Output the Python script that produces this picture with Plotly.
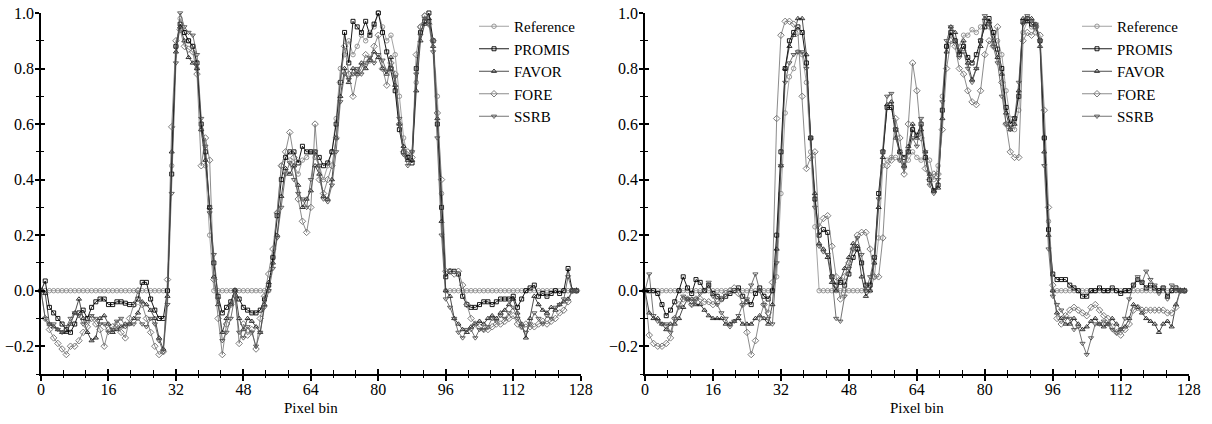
import plotly.graph_objects as go

bins = list(range(128))

# ---------------- Left panel ----------------
ref_L = [0, 0, 0, 0, 0, 0, 0, 0, 0, 0, 0, 0, 0, 0, 0, 0, 0, 0, 0, 0, 0, 0, 0, 0, 0, 0, 0, 0, 0, 0,
         0.0, 0.45, 0.88, 0.98, 0.93, 0.9, 0.88, 0.8, 0.58, 0.45, 0.2,
         0, 0, 0, 0, 0, 0, 0, 0, 0, 0, 0, 0, 0,
         0.0, 0.12, 0.28, 0.45, 0.48, 0.47, 0.45, 0.42, 0.47, 0.48, 0.5, 0.48, 0.45, 0.4, 0.45, 0.5, 0.62, 0.8, 0.85, 0.9, 0.85,
         0.88, 0.92, 0.9, 0.93, 0.95, 1.0, 0.95, 0.9, 0.92, 0.85, 0.7, 0.55, 0.48, 0.5, 0.75, 0.95, 0.99, 0.97, 0.9, 0.7, 0.35,
         0, 0, 0, 0, 0, 0, 0, 0, 0, 0, 0, 0, 0, 0, 0, 0, 0, 0, 0, 0, 0, 0, 0, 0, 0, 0, 0, 0, 0, 0, 0, 0]

promis_L = [0.0, 0.035, -0.06, -0.08, -0.1, -0.12, -0.14, -0.15, -0.12, -0.08, -0.07, -0.1, -0.06, -0.04, -0.03, -0.03, -0.05, -0.05, -0.04, -0.04, -0.045, -0.05, -0.05, -0.03, 0.03, 0.03, -0.03, -0.07, -0.1, -0.1,
            0.0, 0.42, 0.88, 0.96, 0.93, 0.9, 0.88, 0.82, 0.6, 0.5, 0.3,
            0.1, -0.02, -0.08, -0.06, -0.04, 0.0, -0.03, -0.06, -0.07, -0.08, -0.08, -0.07, -0.03,
            0.02, 0.12, 0.27, 0.4, 0.48, 0.5, 0.5, 0.46, 0.52, 0.5, 0.5, 0.5, 0.48, 0.45, 0.46, 0.5, 0.6, 0.75, 0.93, 0.82, 0.97,
            0.95, 0.93, 0.97, 0.92, 0.96, 1.0, 0.93, 0.86, 0.8, 0.72, 0.58, 0.5, 0.48, 0.46, 0.8, 0.93, 0.97, 1.0, 0.9, 0.6, 0.3,
            0.05, 0.07, 0.07, 0.06, -0.02, -0.05, -0.06, -0.06, -0.05, -0.04, -0.04, -0.05, -0.04, -0.03, -0.03, -0.03, -0.02, -0.06, -0.03, 0.0, 0.01, 0.02, -0.02, -0.01, -0.02, -0.01, 0.0, -0.01, 0.0, 0.08, 0.0, 0.0]

favor_L = [0.0, -0.01, -0.12, -0.13, -0.14, -0.15, -0.15, -0.12, -0.08, -0.03, -0.1, -0.15, -0.18, -0.17, -0.1, -0.09, -0.12, -0.15, -0.14, -0.13, -0.12, -0.12, -0.1, -0.08, -0.04, -0.05, -0.07, -0.1, -0.17, -0.21,
           -0.02, 0.5, 0.86, 0.95, 0.9, 0.84, 0.82, 0.8, 0.58, 0.47, 0.3,
           0.05, -0.05, -0.15, -0.1, -0.05, 0.0, -0.1, -0.14, -0.1, -0.11, -0.13, -0.15, -0.05,
           0.03, 0.1, 0.2, 0.34, 0.44, 0.42, 0.45, 0.38, 0.3, 0.33, 0.36, 0.45, 0.42, 0.34, 0.33, 0.4, 0.55, 0.7, 0.8, 0.75, 0.8,
           0.78, 0.82, 0.8, 0.83, 0.86, 0.84, 0.8, 0.78, 0.84, 0.74, 0.6, 0.52, 0.47, 0.47, 0.72, 0.9, 0.96, 0.98, 0.88, 0.62, 0.25,
           0.0, -0.02, -0.1, -0.12, -0.14, -0.15, -0.13, -0.12, -0.11, -0.12, -0.1, -0.09, -0.1, -0.08, -0.07, -0.05, -0.03, -0.08, -0.12, -0.17, -0.1, -0.02, -0.05, -0.07, -0.08, -0.06, -0.07, -0.05, -0.04, -0.03, 0.0, 0.0]

fore_L = [0.0, -0.1, -0.14, -0.17, -0.19, -0.21, -0.23, -0.2, -0.2, -0.18, -0.15, -0.13, -0.1, -0.12, -0.14, -0.2, -0.14, -0.13, -0.12, -0.15, -0.17, -0.1, -0.05, 0.0, -0.05, -0.1, -0.15, -0.2, -0.23, -0.22,
          0.04, 0.59, 0.9, 0.94, 0.88, 0.87, 0.86, 0.78, 0.45, 0.55, 0.47,
          0.04, -0.1, -0.23, -0.12, -0.05, 0.0, -0.19, -0.12, -0.16, -0.14, -0.21, -0.1, -0.02,
          0.06, 0.15, 0.28, 0.45, 0.5, 0.57, 0.48, 0.33, 0.25, 0.21, 0.3, 0.6, 0.4, 0.35, 0.4, 0.45, 0.55, 0.75, 0.88, 0.78, 0.7,
          0.78, 0.8, 0.85, 0.83, 0.88, 0.92, 0.8, 0.74, 0.82, 0.78, 0.6, 0.5, 0.5, 0.48, 0.85, 0.95, 0.99, 0.96, 0.9, 0.64, 0.4,
          0.07, 0.07, 0.06, 0.07, 0.02, -0.05, -0.1, -0.12, -0.13, -0.14, -0.14, -0.13, -0.12, -0.12, -0.11, -0.1, -0.09, -0.12, -0.13, -0.12, -0.13, -0.13, -0.12, -0.11, -0.12, -0.11, -0.1, -0.08, -0.07, -0.04, 0.0, 0.0]

ssrb_L = [0.0, -0.1, -0.12, -0.12, -0.14, -0.15, -0.13, -0.1, -0.08, -0.09, -0.12, -0.11, -0.09, -0.1, -0.12, -0.12, -0.15, -0.14, -0.11, -0.1, -0.13, -0.12, -0.12, -0.1, -0.12, -0.13, -0.1, -0.12, -0.18, -0.22,
          -0.05, 0.35, 0.82, 1.0, 0.95, 0.93, 0.92, 0.85, 0.62, 0.52, 0.28,
          0.13, -0.03, -0.18, -0.15, -0.1, -0.02, -0.15, -0.17, -0.13, -0.15, -0.2, -0.15, -0.06,
          0.0, 0.08, 0.19, 0.3, 0.42, 0.46, 0.4, 0.35, 0.33, 0.3, 0.4, 0.5, 0.45, 0.33, 0.32, 0.38, 0.5, 0.68, 0.78, 0.76, 0.78,
          0.8, 0.78, 0.82, 0.84, 0.82, 0.85, 0.83, 0.79, 0.8, 0.77, 0.62, 0.49, 0.45, 0.5, 0.78, 0.92, 0.98, 0.96, 0.86, 0.55, 0.2,
          -0.03, -0.06, -0.1, -0.15, -0.17, -0.14, -0.14, -0.17, -0.14, -0.14, -0.13, -0.1, -0.11, -0.09, -0.1, -0.08, -0.06, -0.1, -0.13, -0.15, -0.12, -0.08, -0.1, -0.12, -0.09, -0.1, -0.06, -0.05, -0.03, 0.05, 0.0, 0.0]

# ---------------- Right panel ----------------
ref_R = [0, 0, 0, 0, 0, 0, 0, 0, 0, 0, 0, 0, 0, 0, 0, 0, 0, 0, 0, 0, 0, 0, 0, 0, 0, 0, 0, 0, 0, 0, 0,
         0.05, 0.35, 0.64, 0.77, 0.8, 0.86, 0.85, 0.75, 0.5, 0.23,
         0, 0, 0, 0, 0, 0, 0, 0, 0, 0, 0, 0, 0,
         0.05, 0.19, 0.45, 0.47, 0.48, 0.48, 0.47, 0.45, 0.47, 0.5, 0.48, 0.47, 0.48, 0.47, 0.4, 0.45, 0.7, 0.88, 0.92, 0.9, 0.88,
         0.92, 0.92, 0.94, 0.93, 0.95, 0.97, 0.95, 0.92, 0.9, 0.85, 0.72, 0.62, 0.58, 0.65, 0.93, 0.97, 0.95, 0.93, 0.9, 0.55, 0.25, 0.0,
         0, 0, 0, 0, 0, 0, 0, 0, 0, 0, 0, 0, 0, 0, 0, 0, 0, 0, 0, 0, 0, 0, 0, 0, 0, 0, 0, 0, 0, 0, 0]

promis_R = [0.0, 0.0, 0.0, -0.01, -0.05, -0.09, -0.07, -0.04, 0.0, 0.05, 0.01, -0.01, 0.04, 0.03, 0.0, 0.02, -0.01, -0.02, -0.03, -0.02, -0.01, 0.0, 0.01, -0.02, -0.04, -0.05, -0.01, 0.01, -0.02, -0.03, 0.0,
            0.2, 0.5, 0.8, 0.9, 0.93, 0.95, 0.93, 0.82, 0.55, 0.33,
            0.2, 0.22, 0.21, 0.05, 0.02, 0.03, 0.02, 0.06, 0.12, 0.15, 0.1, 0.02, 0.02,
            0.12, 0.35, 0.5, 0.66, 0.66, 0.58, 0.5, 0.48, 0.5, 0.58, 0.56, 0.6, 0.48, 0.4, 0.36, 0.38, 0.65, 0.88, 0.93, 0.9, 0.85,
            0.88, 0.84, 0.82, 0.85, 0.9, 0.95, 0.98, 0.93, 0.87, 0.8, 0.66, 0.6, 0.62, 0.7, 0.97, 0.98, 0.96, 0.95, 0.9, 0.55, 0.22, 0.06,
            0.04, 0.04, 0.04, 0.02, 0.01, 0.0, -0.02, -0.02, 0.0, 0.0, 0.01, 0.0, 0.0, 0.01, 0.0, -0.01, 0.0, 0.0, 0.02, 0.04, 0.03, 0.01, 0.02, 0.01, 0.0, 0.01, -0.02, 0.0, 0.01, 0.0, 0.0]

favor_R = [0.0, -0.08, -0.1, -0.1, -0.12, -0.14, -0.12, -0.12, -0.1, -0.06, -0.03, -0.03, -0.05, -0.05, -0.07, -0.09, -0.1, -0.1, -0.1, -0.12, -0.12, -0.11, -0.1, -0.12, -0.12, -0.12, -0.1, -0.09, -0.1, -0.12, -0.05,
           0.15, 0.45, 0.8, 0.88, 0.92, 0.98, 0.98, 0.85, 0.55, 0.35,
           0.17, 0.15, 0.12, 0.03, 0.0, 0.04, 0.08, 0.12, 0.17, 0.16, 0.05, -0.02, 0.0,
           0.1, 0.3, 0.48, 0.67, 0.68, 0.55, 0.5, 0.45, 0.52, 0.6, 0.55, 0.58, 0.5, 0.42, 0.36, 0.37, 0.62, 0.86, 0.95, 0.93, 0.86,
           0.9, 0.82, 0.76, 0.8, 0.88, 0.98, 0.97, 0.9, 0.84, 0.78, 0.64, 0.58, 0.6, 0.72, 0.98, 0.97, 0.98, 0.96, 0.88, 0.5, 0.2, 0.0,
           -0.08, -0.1, -0.12, -0.12, -0.1, -0.12, -0.14, -0.13, -0.11, -0.1, -0.12, -0.13, -0.12, -0.1, -0.12, -0.14, -0.13, -0.1, -0.05, -0.06, -0.08, -0.1, -0.11, -0.12, -0.15, -0.12, -0.11, -0.13, -0.05, 0.0, 0.0]

fore_R = [0.0, -0.16, -0.19, -0.2, -0.2, -0.19, -0.17, -0.1, -0.05, -0.03, -0.03, -0.05, -0.03, -0.03, -0.04, -0.04, -0.05, -0.04, -0.03, -0.01, 0.0, 0.01, -0.01, -0.05, -0.15, -0.23, -0.18, -0.1, -0.05, -0.08, 0.03,
          0.62, 0.92, 0.97, 0.97, 0.96, 0.93, 0.7, 0.44, 0.48, 0.5,
          0.23, 0.26, 0.27, 0.16, 0.05, -0.03, 0.05, 0.1, 0.15, 0.2, 0.21, 0.21, 0.15,
          0.05, 0.05, 0.19, 0.45, 0.47, 0.62, 0.55, 0.42, 0.6, 0.82, 0.72, 0.55, 0.44, 0.4, 0.42, 0.42, 0.58, 0.8, 0.9, 0.88, 0.8,
          0.78, 0.72, 0.68, 0.67, 0.72, 0.85, 0.9, 0.88, 0.95, 0.75, 0.6, 0.5, 0.48, 0.48, 0.9, 0.93, 0.92, 0.95, 0.92, 0.65, 0.3, 0.02,
          -0.1, -0.12, -0.09, -0.07, -0.06, -0.07, -0.08, -0.09, -0.06, -0.05, -0.07, -0.09, -0.1, -0.13, -0.15, -0.16, -0.14, -0.12, -0.07, -0.06, -0.07, -0.07, -0.07, -0.07, -0.07, -0.07, -0.08, -0.08, -0.06, 0.0, 0.0]

ssrb_R = [0.0, 0.06, -0.09, -0.11, -0.12, -0.12, -0.15, -0.1, -0.06, -0.02, -0.03, -0.05, -0.03, -0.01, 0.0, 0.03, -0.02, -0.05, -0.08, -0.1, -0.13, -0.11, -0.09, -0.05, -0.03, 0.02, 0.06, 0.0, -0.05, -0.1, -0.12,
          0.1, 0.45, 0.75, 0.82, 0.85, 0.86, 0.86, 0.8, 0.55, 0.3,
          0.16, 0.14, 0.13, 0.05, -0.1, -0.11, -0.02, 0.08, 0.15, 0.19, 0.13, 0.0, 0.05,
          0.12, 0.33, 0.5, 0.7, 0.71, 0.58, 0.47, 0.44, 0.5, 0.55, 0.52, 0.62, 0.5, 0.38, 0.35, 0.4, 0.68, 0.9, 0.95, 0.9, 0.84,
          0.86, 0.8, 0.75, 0.8, 0.9, 0.99, 0.96, 0.88, 0.82, 0.7, 0.6, 0.58, 0.62, 0.75, 0.96, 0.99, 0.97, 0.96, 0.9, 0.45, 0.15, -0.02,
          -0.05, -0.07, -0.1, -0.1, -0.14, -0.13, -0.19, -0.23, -0.17, -0.12, -0.12, -0.11, -0.12, -0.14, -0.15, -0.14, -0.1, -0.03, 0.02, 0.05, 0.03, 0.07, 0.04, 0.02, -0.01, 0.01, -0.03, 0.02, 0.0, 0.0, 0.0]

series_names = ["Reference", "PROMIS", "FAVOR", "FORE", "SSRB"]
left_data = [ref_L, promis_L, favor_L, fore_L, ssrb_L]
right_data = [ref_R, promis_R, favor_R, fore_R, ssrb_R]
for arr in left_data + right_data:
    assert len(arr) == 128, len(arr)

styles = [
    dict(color="#8c8c8c", symbol="circle-open", size=4.5, width=0.8),
    dict(color="#000000", symbol="square-open", size=4, width=0.9),
    dict(color="#1e1e1e", symbol="triangle-up-open", size=4.5, width=0.8),
    dict(color="#6e6e6e", symbol="diamond-open", size=5, width=0.8),
    dict(color="#505050", symbol="triangle-down-open", size=4.5, width=0.8),
]

FONT = "Liberation Serif"
fig = go.Figure()

for panel, (data, xa, ya, lg) in enumerate([(left_data, "x", "y", "legend"), (right_data, "x2", "y2", "legend2")]):
    for name, vals, st in zip(series_names, data, styles):
        fig.add_trace(go.Scatter(
            x=bins, y=vals, name=name, mode="lines+markers",
            xaxis=xa, yaxis=ya, legend=lg,
            line=dict(color=st["color"], width=st["width"]),
            marker=dict(symbol=st["symbol"], size=st["size"], color=st["color"],
                        line=dict(width=0.9, color=st["color"])),
            cliponaxis=False,
        ))

# invisible traces to host overlay axes (inner half of crossing ticks)
for xa, ya in [("x3", "y"), ("x", "y3"), ("x4", "y2"), ("x2", "y4")]:
    fig.add_trace(go.Scatter(x=[None], y=[None], xaxis=xa, yaxis=ya, showlegend=False,
                             hoverinfo="skip", mode="markers"))

ydom = [50 / 424, 411 / 424]
xdomL = [41 / 1212, 580.7 / 1212]
xdomR = [645 / 1212, 1188.7 / 1212]

tickfont = dict(family=FONT, size=16, color="black")

def xaxis_main(dom, anchor):
    return dict(domain=dom, anchor=anchor, range=[0, 128], tick0=0, dtick=16,
                showline=True, linecolor="black", linewidth=1.5, automargin=False,
                ticks="outside", ticklen=5, tickwidth=1.5, tickcolor="black",
                ticklabelstandoff=-5,
                minor=dict(dtick=16 / 3, tick0=0, ticks="outside", ticklen=2, tickwidth=1, tickcolor="black"),
                showgrid=False, zeroline=False, tickfont=tickfont,
                title=dict(text="Pixel bin", font=dict(family=FONT, size=15, color="black"), standoff=6))

def yaxis_main(anchor):
    return dict(domain=ydom, anchor=anchor, range=[-0.3, 1.0], tick0=0, dtick=0.2, tickformat=".1f",
                showline=True, linecolor="black", linewidth=1.5, automargin=False,
                ticks="outside", ticklen=4, tickwidth=1.5, tickcolor="black",
                ticklabelstandoff=-2,
                minor=dict(dtick=0.1, tick0=0, ticks="outside", ticklen=3, tickwidth=1, tickcolor="black"),
                showgrid=False, zeroline=False, tickfont=tickfont)

def x_overlay(over, anchor):
    return dict(overlaying=over, anchor=anchor, range=[0, 128], tick0=0, dtick=16, automargin=False,
                showline=False, showticklabels=False, ticks="inside", ticklen=5, tickwidth=1.5,
                tickcolor="black",
                minor=dict(dtick=16 / 3, tick0=0, ticks="inside", ticklen=4, tickwidth=1, tickcolor="black"),
                showgrid=False, zeroline=False)

def y_overlay(over, anchor):
    return dict(overlaying=over, anchor=anchor, range=[-0.3, 1.0], tick0=0, dtick=0.2, automargin=False,
                showline=False, showticklabels=False, ticks="inside", ticklen=4, tickwidth=1.5,
                tickcolor="black",
                minor=dict(dtick=0.1, tick0=0, ticks="inside", ticklen=3, tickwidth=1, tickcolor="black"),
                showgrid=False, zeroline=False)

legend_common = dict(xanchor="left", yanchor="top", bgcolor="rgba(0,0,0,0)",
                     font=dict(family=FONT, size=15, color="black"),
                     tracegroupgap=0, borderwidth=0)

fig.update_layout(
    width=1212, height=424,
    margin=dict(l=0, r=0, t=0, b=0, autoexpand=False),
    paper_bgcolor="white", plot_bgcolor="white",
    font=dict(family=FONT, color="black"),
    hovermode=False,
    xaxis=xaxis_main(xdomL, "y"),
    yaxis=yaxis_main("x"),
    xaxis2=xaxis_main(xdomR, "y2"),
    yaxis2=yaxis_main("x2"),
    xaxis3=x_overlay("x", "y"),
    yaxis3=y_overlay("y", "x"),
    xaxis4=x_overlay("x2", "y2"),
    yaxis4=y_overlay("y2", "x2"),
    legend=dict(x=474 / 1212, y=1 - 10 / 424, **legend_common),
    legend2=dict(x=1077 / 1212, y=1 - 10 / 424, **legend_common),
)

fig.write_html(
    "out.html",
    config={"displayModeBar": False},
    post_script="document.body.style.margin='0';document.body.style.padding='0';"
)
